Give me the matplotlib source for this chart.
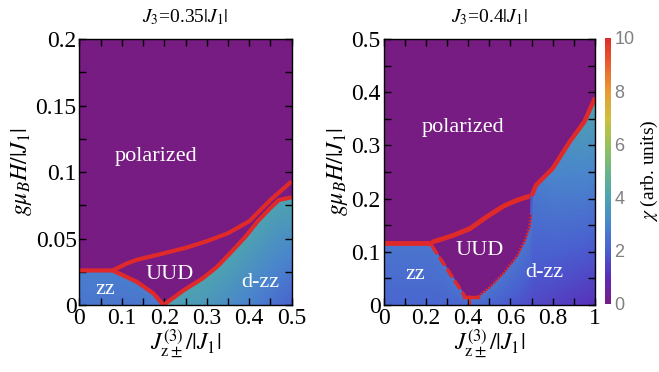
import matplotlib
matplotlib.use("Agg")
import matplotlib.colors as mplc
import matplotlib.pyplot as plt
import numpy as np
from matplotlib.ticker import MultipleLocator

plt.rcParams["font.family"] = "serif"
plt.rcParams["font.serif"] = ["Liberation Serif", "DejaVu Serif"]
plt.rcParams["mathtext.fontset"] = "stix"

# ---- data ----
# left panel, J3 = 0.35|J1|
# lower edge of the purple (polarized + UUD) area: zz top -> zz/UUD -> UUD/d-zz
left_floor_x = [0, 0.078, 0.135, 0.174, 0.198, 0.245, 0.29, 0.325, 0.355, 0.39, 0.42, 0.45, 0.47, 0.5]
left_floor_y = [0.026, 0.026, 0.0175, 0.0088, 0.0, 0.011, 0.02, 0.029, 0.039, 0.051, 0.063, 0.073, 0.079, 0.081]
# UUD / polarized line
left_top_x = [0.078, 0.11, 0.135, 0.2, 0.25, 0.3, 0.35, 0.4, 0.45, 0.5]
left_top_y = [0.026, 0.031, 0.034, 0.039, 0.043, 0.048, 0.054, 0.063, 0.079, 0.093]
left_tip = 0.198
left_zz_chi = [2.6, 2.8]            # bottom, top of zz
left_dzz_x = [0.198, 0.3, 0.4, 0.5]
left_dzz_bottom = [3.9, 3.6, 2.9, 2.1]
left_dzz_top = [4.0, 4.0, 4.0, 4.0]

# right panel, J3 = 0.4|J1|
right_zzpol_x = [0, 0.228]
right_zzpol_y = [0.116, 0.116]
right_zzuud_x = [0.228, 0.385]
right_zzuud_y = [0.112, 0.016]
right_base_x = [0.38, 0.448]
right_base_y = [0.016, 0.016]
right_low_x = [0.448, 0.504, 0.567, 0.63, 0.669, 0.69, 0.698]
right_low_y = [0.016, 0.034, 0.06, 0.091, 0.122, 0.147, 0.172]
right_top_x = [0.228, 0.33, 0.41, 0.488, 0.567, 0.63, 0.693]
right_top_y = [0.118, 0.131, 0.144, 0.166, 0.186, 0.197, 0.205]
right_pd_x = [0.70, 0.72, 0.80, 0.88, 0.95, 1.0]
right_pd_y = [0.205, 0.225, 0.257, 0.307, 0.345, 0.39]
right_tip = 0.41
right_zz_chi = [2.2, 2.6]
right_dzz_x = [0.41, 0.7, 1.0]
right_dzz_bottom = [2.4, 1.6, 1.1]
right_dzz_top = [2.6, 2.6, 4.0]

# colormap stops (chi value, colour)
cmap_vals = [0, 1, 2, 3, 4, 5, 6, 7, 8, 9, 10]
cmap_cols = ["#771c82", "#5a2cb8", "#4a5fd0", "#4a86cc", "#4ea3b0", "#6cb58a",
             "#98c25a", "#cdbf3c", "#e89a35", "#e8622e", "#e02a2a"]

cmap = mplc.LinearSegmentedColormap.from_list(
    "chi", [(v / 10, c) for v, c in zip(cmap_vals, cmap_cols)])
red = cmap(1.0)


def chi_map(xmax, ymax, floor_x, floor_y, tip, zz_chi, dzz_x, dzz_bot, dzz_top):
    xs = np.linspace(0, xmax, 500)
    ys = np.linspace(0, ymax, 500)
    X, Y = np.meshgrid(xs, ys)
    fl = np.interp(xs, floor_x, floor_y)[None, :] * np.ones_like(Y)
    frac = np.clip(Y / np.maximum(fl, 1e-9), 0, 1)
    bot = np.interp(X, dzz_x, dzz_bot)
    top = np.interp(X, dzz_x, dzz_top)
    Z = np.where(X < tip, zz_chi[0] + (zz_chi[1] - zz_chi[0]) * frac,
                 bot + (top - bot) * frac)
    Z[Y > fl] = 0
    return Z


fig = plt.figure(figsize=(6.59, 3.72), dpi=100)
ax1 = fig.add_axes([0.1206, 0.180, 0.322, 0.715])
ax2 = fig.add_axes([0.582, 0.180, 0.321, 0.715])
cax = fig.add_axes([0.9188, 0.183, 0.0091, 0.715])

Z1 = chi_map(0.5, 0.2, left_floor_x, left_floor_y, left_tip, left_zz_chi,
             left_dzz_x, left_dzz_bottom, left_dzz_top)
im = ax1.imshow(Z1, origin="lower", extent=[0, 0.5, 0, 0.2], aspect="auto",
                cmap=cmap, vmin=0, vmax=10, interpolation="bilinear")
ax1.plot(left_floor_x, left_floor_y, color=red, lw=3.0, solid_capstyle="butt")
ax1.plot(left_top_x, left_top_y, color=red, lw=3.0, solid_capstyle="butt")

right_floor_x = right_zzpol_x + right_zzuud_x + [0.40] + right_low_x + right_pd_x
right_floor_y = right_zzpol_y + right_zzuud_y + [0.016] + right_low_y + right_pd_y
Z2 = chi_map(1.0, 0.5, right_floor_x, right_floor_y, right_tip, right_zz_chi,
             right_dzz_x, right_dzz_bottom, right_dzz_top)
ax2.imshow(Z2, origin="lower", extent=[0, 1, 0, 0.5], aspect="auto",
           cmap=cmap, vmin=0, vmax=10, interpolation="bilinear")
ax2.plot(right_zzpol_x, right_zzpol_y, color=red, lw=3.5, solid_capstyle="butt")
ax2.plot(right_zzuud_x, right_zzuud_y, color=red, lw=2.5, ls=(0, (3, 1)))
ax2.plot(right_base_x, right_base_y, color=red, lw=2.5)
ax2.plot([0.405, 0.41], [0.016, 0.0], color=red, lw=1.5)
ax2.plot(right_low_x, right_low_y, color=red, lw=2, ls=(0, (0.6, 0.6)))
ax2.plot([0.698, 0.70], [0.172, 0.205], color="#4a5fd0", lw=1.5)
ax2.plot(right_top_x, right_top_y, color=red, lw=3.5, solid_capstyle="butt")
ax2.plot(right_pd_x, right_pd_y, color=red, lw=3.2, solid_capstyle="butt")

lab_kw = dict(color="white", fontsize=16, ha="center", va="center")
ax1.text(0.18, 0.112, "polarized", **lab_kw)
ax1.text(0.213, 0.023, "UUD", **lab_kw)
ax1.text(0.06, 0.012, "zz", **lab_kw)
ax1.text(0.427, 0.017, "d-zz", **lab_kw)
ax2.text(0.376, 0.334, "polarized", **lab_kw)
ax2.text(0.455, 0.102, "UUD", **lab_kw)
ax2.text(0.152, 0.058, "zz", **lab_kw)
ax2.text(0.76, 0.061, "d-zz", **lab_kw)

for ax, xmaj, ymaj in [(ax1, 0.1, 0.05), (ax2, 0.2, 0.1)]:
    ax.xaxis.set_major_locator(MultipleLocator(xmaj))
    ax.xaxis.set_minor_locator(MultipleLocator(xmaj / 2))
    ax.yaxis.set_major_locator(MultipleLocator(ymaj))
    ax.yaxis.set_minor_locator(MultipleLocator(ymaj / 2))
    ax.tick_params(which="both", direction="in", top=True, right=True,
                   length=5, width=1, labelsize=17, pad=2)
    ax.set_xlabel(r"$J_{\mathrm{z}\pm}^{(3)}/|J_1|$", fontsize=17, labelpad=-1)
    ax.set_ylabel(r"$g\mu_B H/|J_1|$", fontsize=17, labelpad=1)
    for s in ax.spines.values():
        s.set_linewidth(1)

ax1.set_xlim(0, 0.5)
ax1.set_ylim(0, 0.2)
ax1.set_xticks([0, 0.1, 0.2, 0.3, 0.4, 0.5])
ax1.set_xticklabels(["0", "0.1", "0.2", "0.3", "0.4", "0.5"])
ax1.set_yticks([0, 0.05, 0.1, 0.15, 0.2])
ax1.set_yticklabels(["0", "0.05", "0.1", "0.15", "0.2"])
ax2.set_xlim(0, 1)
ax2.set_ylim(0, 0.5)
ax2.set_xticks([0, 0.2, 0.4, 0.6, 0.8, 1.0])
ax2.set_xticklabels(["0", "0.2", "0.4", "0.6", "0.8", "1"])
ax2.set_yticks([0, 0.1, 0.2, 0.3, 0.4, 0.5])
ax2.set_yticklabels(["0", "0.1", "0.2", "0.3", "0.4", "0.5"])

ax1.set_title(r"$J_3$=0.35$|J_1|$", fontsize=14, pad=12)
ax2.set_title(r"$J_3$=0.4$|J_1|$", fontsize=14, pad=12)

cb = fig.colorbar(im, cax=cax, ticks=[0, 2, 4, 6, 8, 10])
cb.outline.set_visible(False)
cax.tick_params(length=0, labelsize=13, labelcolor="#808080", pad=2)
for t in cax.get_yticklabels():
    t.set_family("Liberation Sans")
cb.set_label(r"$\chi$ (arb. units)", fontsize=14, labelpad=3)

fig.savefig("out.png", dpi=100)
